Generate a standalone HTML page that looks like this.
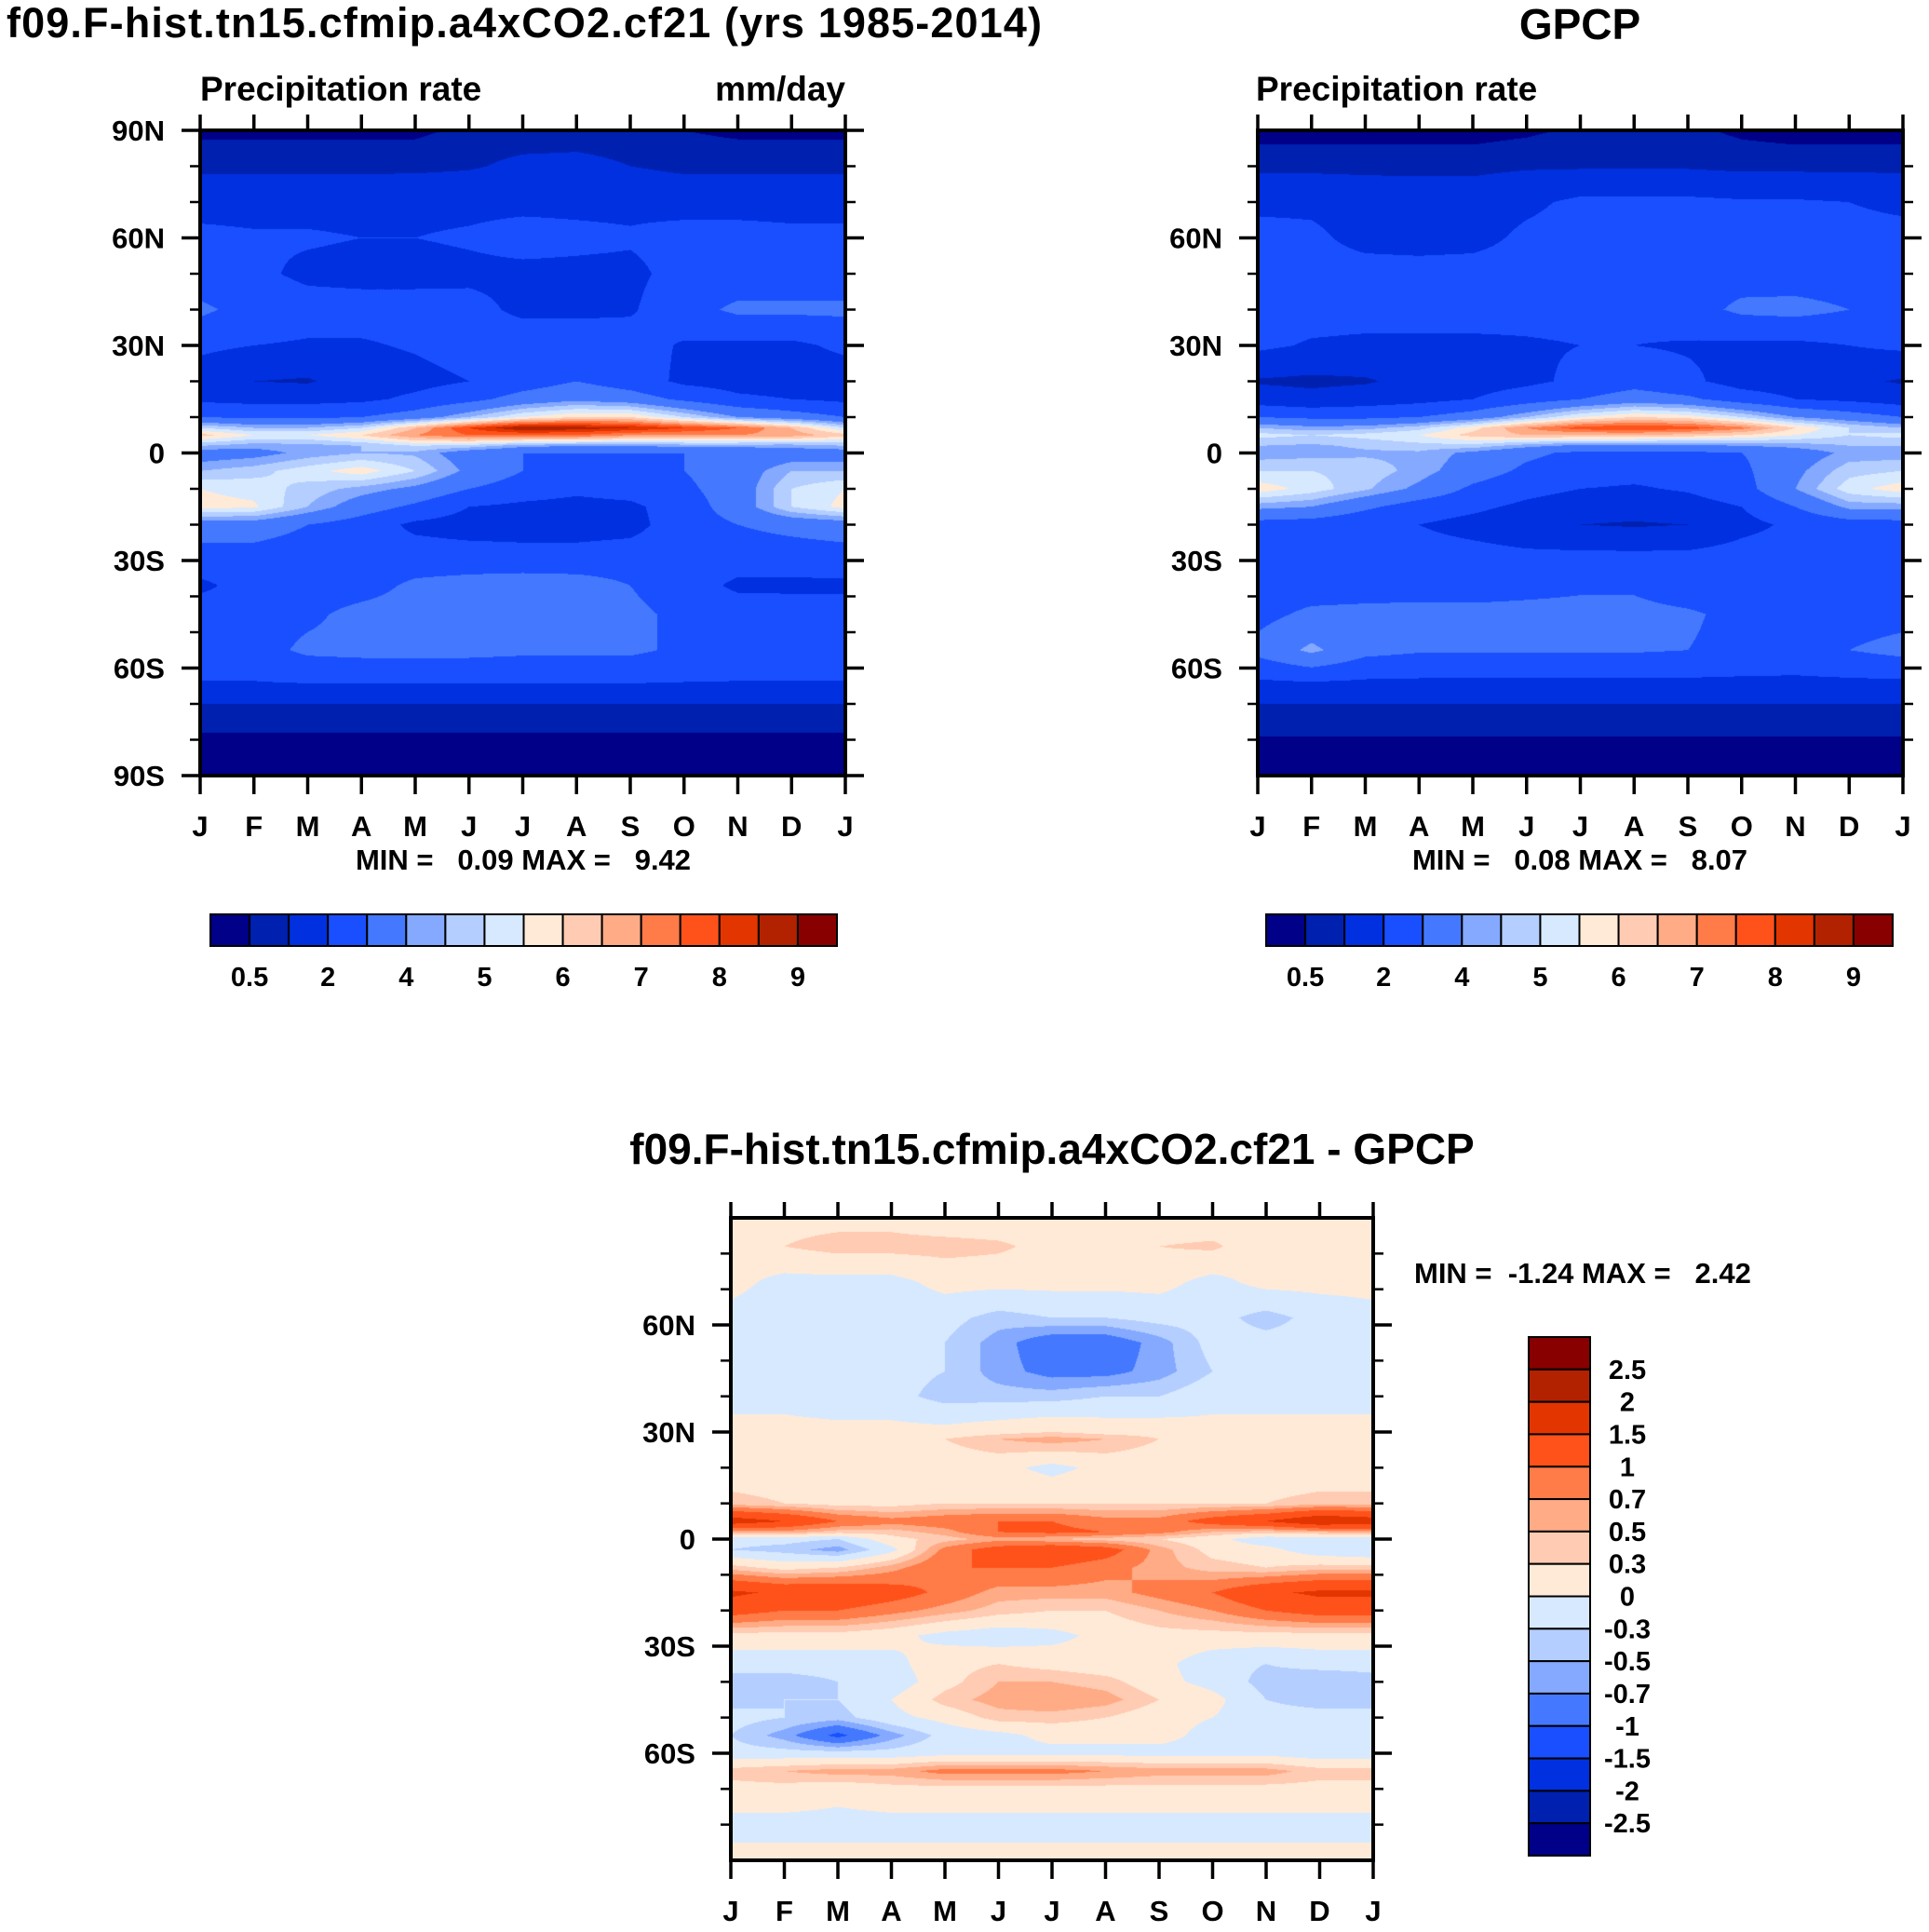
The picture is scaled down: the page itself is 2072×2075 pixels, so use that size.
<!DOCTYPE html>
<html><head><meta charset="utf-8">
<style>
html,body{margin:0;padding:0;background:#fff;}
#root{position:relative;width:2072px;height:2075px;overflow:hidden;font-family:"Liberation Sans",Arial,sans-serif;}
canvas{position:absolute;}
svg{position:absolute;left:0;top:0;}
text{font-family:"Liberation Sans",Arial,sans-serif;font-weight:bold;fill:#000;white-space:pre;}
</style></head>
<body>
<div id="root">
<canvas id="c1"></canvas>
<canvas id="c2"></canvas>
<canvas id="c3"></canvas>
<svg id="s" width="2072" height="2075"></svg>
</div>
<script>
// ---------- data ----------
const monthLabels=['J','F','M','A','M','J','J','A','S','O','N','D','J'];
const colorsMap=['#000088','#0020B0','#0030E0','#1A4FFF','#4479FF','#84A9FF','#B4CEFF','#D7E9FF','#FFEAD7','#FFCBB2','#FFAB86','#FF7B48','#FF521B','#E33500','#B22200','#880000'];
const levelsPrecip=[0.5,1,2,3,4,4.5,5,5.5,6,6.5,7,7.5,8,8.5,9];
const levelsDiff=[-2.5,-2,-1.5,-1,-0.7,-0.5,-0.3,0,0.3,0.5,0.7,1,1.5,2,2.5];
const precipBarLabels=['0.5','2','4','5','6','7','8','9'];
const precipBarLabelIdx=[1,3,5,7,9,11,13,15];
const diffBarLabels=['-2.5','-2','-1.5','-1','-0.7','-0.5','-0.3','0','0.3','0.5','0.7','1','1.5','2','2.5'];
const latsModel=[90,80,70,60,50,40,30,20,15,10,7,5,2,0,-5,-10,-15,-20,-30,-37,-45,-55,-65,-70,-75,-80,-90];
const modelPrecip=[
[0.4,0.4,0.4,0.4,0.4,0.6,0.6,0.7,0.7,0.5,0.4,0.4],
[0.8,0.8,0.8,0.8,0.8,0.9,1.2,1.2,1.0,0.8,0.8,0.8],
[1.7,1.7,1.7,1.7,1.8,1.8,1.8,1.8,1.8,1.7,1.7,1.7],
[2.2,2.1,2.1,2.0,2.0,2.1,2.3,2.2,2.1,2.3,2.3,2.2],
[2.4,2.2,1.8,1.7,1.7,1.8,1.8,1.8,1.8,2.3,2.4,2.4],
[3.2,2.6,2.4,2.4,2.4,2.3,1.8,1.8,1.9,2.6,3.2,3.2],
[2.2,2.0,1.9,1.9,2.1,2.4,2.6,2.6,2.4,1.9,1.8,1.8],
[1.5,1.0,0.9,1.5,1.7,2.0,2.5,3.0,2.5,1.8,1.6,1.5],
[1.8,1.7,1.7,1.8,2.2,2.7,3.4,3.8,3.5,2.8,2.2,2.0],
[3.0,2.8,2.8,3.0,3.5,4.5,5.5,6.0,6.0,5.0,4.0,3.5],
[5.0,4.5,4.5,5.0,6.5,8.0,9.0,8.8,8.5,8.0,7.5,6.5],
[6.2,5.5,5.5,6.0,7.0,7.5,7.5,7.5,7.0,7.0,7.0,6.8],
[4.5,4.2,4.3,4.5,5.0,4.8,4.2,4.0,4.0,4.2,4.2,4.2],
[3.5,3.7,4.2,4.5,4.4,3.5,3.0,3.0,3.0,3.0,3.2,3.5],
[4.5,4.8,5.3,5.8,5.0,3.8,3.0,2.5,2.5,3.0,3.5,4.5],
[5.5,5.3,4.8,4.3,3.8,3.0,2.5,2.2,2.4,2.8,3.5,5.0],
[5.7,5.6,4.5,3.5,2.8,2.0,1.8,1.7,1.8,2.5,3.5,5.0],
[3.5,3.5,3.0,2.5,1.8,1.6,1.6,1.6,1.7,2.5,3.0,3.3],
[2.5,2.5,2.4,2.4,2.5,2.5,2.4,2.4,2.5,2.5,2.4,2.4],
[1.8,2.4,2.5,2.6,3.2,3.4,3.6,3.5,3.0,2.5,1.8,1.8],
[2.5,2.6,2.8,3.3,3.4,3.5,3.5,3.4,3.2,2.8,2.6,2.5],
[2.6,2.6,3.2,3.3,3.3,3.3,3.2,3.2,3.2,2.8,2.6,2.6],
[1.9,1.9,1.9,1.9,1.9,1.9,1.9,1.9,1.9,1.9,1.9,1.9],
[1.0,1.0,1.0,1.0,1.0,1.0,1.0,1.0,1.0,1.0,1.0,1.0],
[0.8,0.8,0.8,0.8,0.8,0.8,0.8,0.8,0.8,0.8,0.8,0.8],
[0.3,0.3,0.3,0.3,0.3,0.3,0.3,0.3,0.3,0.3,0.3,0.3],
[0.2,0.2,0.2,0.2,0.2,0.2,0.2,0.2,0.2,0.2,0.2,0.2]];
const latsObs=[90,80,70,60,50,40,30,20,15,10,7,5,2,0,-5,-10,-15,-20,-30,-37,-45,-55,-65,-70,-75,-80,-90];
const obsPrecip=[
[0.3,0.3,0.3,0.3,0.3,0.4,0.6,0.7,0.6,0.4,0.3,0.3],
[0.8,0.8,0.8,0.8,0.8,0.9,0.9,0.9,0.9,0.8,0.8,0.8],
[1.8,1.8,1.6,1.5,1.5,1.8,2.2,2.2,2.2,2.1,2.1,2.0],
[2.3,2.2,1.7,1.6,1.7,2.2,2.4,2.4,2.4,2.4,2.3,2.3],
[2.5,2.4,2.4,2.4,2.4,2.4,2.5,2.5,2.6,2.6,2.5,2.5],
[2.5,2.4,2.4,2.4,2.4,2.3,2.3,2.3,2.6,3.2,3.3,3.0],
[2.2,1.9,1.8,1.8,1.8,1.9,2.0,2.0,1.9,1.8,1.8,2.0],
[0.9,0.8,0.9,1.3,1.6,1.8,2.2,2.6,2.2,1.6,1.5,1.2],
[1.5,1.3,1.5,1.7,2.0,2.5,3.0,3.5,3.2,2.5,2.0,1.8],
[3.0,2.8,2.8,3.0,3.5,4.5,5.5,6.0,5.8,5.0,4.0,3.5],
[4.5,4.2,4.3,4.8,5.8,7.0,7.8,8.0,7.8,7.2,6.0,5.0],
[5.2,5.0,5.2,5.5,6.2,6.5,6.5,6.5,6.3,6.0,5.5,5.0],
[4.5,4.4,4.6,4.8,4.8,4.2,3.8,3.8,3.8,4.0,4.2,4.5],
[4.2,4.3,4.4,4.4,3.8,3.2,2.8,2.8,2.8,3.0,3.5,4.2],
[5.0,5.0,4.8,4.3,3.5,2.8,2.4,2.3,2.4,2.8,3.8,4.8],
[5.8,5.3,4.6,3.8,2.8,2.3,2.0,1.9,2.1,2.6,4.0,5.3],
[4.2,4.0,3.2,2.5,2.2,1.8,1.5,1.4,1.6,2.0,3.0,4.2],
[2.6,2.5,2.2,2.0,1.7,1.4,1.0,0.9,1.0,1.7,2.2,2.5],
[2.5,2.4,2.4,2.4,2.4,2.3,2.4,2.4,2.4,2.5,2.5,2.5],
[2.5,2.5,2.5,2.6,2.7,2.8,2.9,2.9,2.6,2.5,2.5,2.5],
[2.7,3.2,3.3,3.3,3.2,3.2,3.2,3.2,3.1,2.8,2.5,2.6],
[3.3,4.2,3.3,3.1,3.1,3.1,3.1,3.1,3.0,2.8,2.7,3.0],
[1.7,1.7,1.7,1.7,1.7,1.7,1.7,1.7,1.7,1.7,1.7,1.7],
[1.0,1.0,1.0,1.0,1.0,1.0,1.0,1.0,1.0,1.0,1.0,1.0],
[0.9,0.9,0.9,0.9,0.9,0.9,0.9,0.9,0.9,0.9,0.9,0.9],
[0.4,0.4,0.4,0.4,0.4,0.4,0.4,0.4,0.4,0.4,0.4,0.4],
[0.3,0.3,0.3,0.3,0.3,0.3,0.3,0.3,0.3,0.3,0.3,0.3]];
const latsDiff=[90,82,72,62,55,47,40,30,28,20,10,5,2,0,-3,-8,-15,-20,-27,-35,-40,-45,-50,-55,-60,-65,-70,-80,-90];
const diffPrecip=[
[0.1,0.2,0.2,0.2,0.1,0.1,0.1,0.1,0.1,0.1,0.1,0.1],
[0.1,0.3,0.4,0.4,0.4,0.35,0.2,0.2,0.3,0.35,0.1,0.1],
[0.1,-0.1,-0.1,-0.1,0.1,0.1,0.1,0.1,0.1,-0.1,0.1,0.1],
[-0.1,-0.2,-0.2,-0.2,-0.2,-0.4,-0.3,-0.3,-0.2,-0.2,-0.4,-0.2],
[-0.2,-0.2,-0.2,-0.2,-0.3,-0.6,-0.9,-0.9,-0.6,-0.2,-0.2,-0.2],
[-0.2,-0.2,-0.2,-0.2,-0.3,-0.6,-0.8,-0.8,-0.6,-0.3,-0.2,-0.2],
[-0.1,-0.1,-0.2,-0.2,-0.4,-0.4,-0.4,-0.3,-0.3,-0.1,-0.1,-0.1],
[0.1,0.1,0.1,0.1,0.1,0.2,0.3,0.2,0.2,0.1,0.1,0.1],
[0.1,0.1,0.1,0.1,0.3,0.5,0.6,0.5,0.3,0.2,0.1,0.1],
[0.1,0.1,0.1,0.1,0.1,0.1,-0.1,0.1,0.1,0.1,0.1,0.1],
[0.4,0.3,0.2,0.2,0.3,0.3,0.3,0.3,0.3,0.3,0.3,0.4],
[1.8,1.5,1.0,0.8,0.9,1.0,1.0,0.8,0.8,1.2,1.5,2.0],
[0.6,0.6,0.4,0.4,0.6,1.0,1.1,1.0,0.8,0.5,0.4,0.5],
[-0.2,-0.2,-0.3,0.2,0.4,0.6,0.5,0.4,0.3,0.1,-0.2,-0.2],
[-0.3,-0.4,-0.6,-0.1,0.8,1.2,1.4,1.2,0.6,0.2,0.1,-0.2],
[0.4,0.2,0.3,0.6,1.0,1.0,1.0,0.8,0.6,0.4,0.3,0.4],
[1.6,1.4,1.4,1.2,0.9,0.6,0.6,0.6,0.8,1.0,1.4,1.6],
[1.2,1.0,1.0,0.8,0.6,0.4,0.3,0.3,0.5,0.7,1.0,1.2],
[0.2,0.2,0.2,0.1,-0.1,-0.2,-0.1,0.1,0.2,0.2,0.2,0.2],
[-0.2,-0.2,-0.2,-0.1,0.2,0.3,0.2,0.1,0.1,-0.2,-0.3,-0.2],
[-0.4,-0.4,-0.3,-0.2,0.2,0.5,0.5,0.4,0.1,-0.1,-0.4,-0.5],
[-0.4,-0.3,-0.3,0.0,0.4,0.6,0.7,0.6,0.3,0.1,-0.3,-0.4],
[-0.2,-0.3,-0.4,-0.1,0.1,0.4,0.4,0.3,0.1,0.0,-0.2,-0.2],
[-0.3,-0.6,-1.1,-0.6,-0.2,-0.1,0.1,0.1,0.1,-0.1,-0.2,-0.3],
[-0.2,-0.2,-0.2,-0.2,-0.1,-0.1,-0.1,-0.1,-0.1,-0.1,-0.1,-0.2],
[0.4,0.5,0.6,0.6,0.8,0.8,0.8,0.7,0.6,0.6,0.6,0.4],
[0.2,0.2,0.1,0.2,0.2,0.2,0.2,0.2,0.2,0.2,0.2,0.2],
[-0.1,-0.1,-0.1,-0.1,-0.1,-0.1,-0.1,-0.1,-0.1,-0.1,-0.1,-0.1],
[0.1,0.1,0.1,0.1,0.1,0.1,0.1,0.1,0.1,0.1,0.1,0.1]];

// ---------- helpers ----------
const NS='http://www.w3.org/2000/svg';
const svg=document.getElementById('s');
function el(tag,attrs,parent){const e=document.createElementNS(NS,tag);for(const k in attrs)e.setAttribute(k,attrs[k]);(parent||svg).appendChild(e);return e;}
function txt(x,y,s,size,anchor,name){const t=el('text',{x:x,y:y,'font-size':size,'text-anchor':anchor||'start'});t.textContent=s;


return t;}
function hexRgb(h){return [parseInt(h.substr(1,2),16),parseInt(h.substr(3,2),16),parseInt(h.substr(5,2),16)];}
const rgbMap=colorsMap.map(hexRgb);
function levelIndex(v,levels){let i=0;while(i<levels.length&&v>=levels[i])i++;return i;}

function drawField(id,box,lats,vals,levels){
  const c=document.getElementById(id);
  c.width=box.w;c.height=box.h;c.style.left=box.x+'px';c.style.top=box.y+'px';
  const ctx=c.getContext('2d');const img=ctx.createImageData(box.w,box.h);
  for(let py=0;py<box.h;py++){
    const lat=90-180*(py+0.5)/box.h;
    let r=0;while(r<lats.length-2&&lat<lats[r+1])r++;
    const ft=(lats[r]-lat)/(lats[r]-lats[r+1]);
    for(let px=0;px<box.w;px++){
      const m=12*(px+0.5)/box.w;const i=Math.floor(m)%12;const j=(i+1)%12;const fm=m-Math.floor(m);
      const a=vals[r][i]*(1-fm)+vals[r][j]*fm;
      const b=vals[r+1][i]*(1-fm)+vals[r+1][j]*fm;
      const v=a*(1-ft)+b*ft;
      const col=rgbMap[levelIndex(v,levels)];
      const o=(py*box.w+px)*4;img.data[o]=col[0];img.data[o+1]=col[1];img.data[o+2]=col[2];img.data[o+3]=255;
    }
  }
  ctx.putImageData(img,0,0);
}

function axes(box,prefix,latTicks,latLabels,topTicks){
  const g=el('g',{});
  
  
  const yOf=lat=>box.y+box.h*(90-lat)/180;
  const xOf=k=>box.x+box.w*k/12;
  for(let lat=-80;lat<=80;lat+=10){
    const y=yOf(lat);
    el('line',{x1:box.x-11,x2:box.x,y1:y,y2:y,stroke:'#000','stroke-width':2.5},g);
    el('line',{x1:box.x+box.w,x2:box.x+box.w+11,y1:y,y2:y,stroke:'#000','stroke-width':2.5},g);
  }
  latTicks.forEach((lat,i)=>{
    const y=yOf(lat);
    el('line',{x1:box.x-20,x2:box.x,y1:y,y2:y,stroke:'#000','stroke-width':3.5},g);
    el('line',{x1:box.x+box.w,x2:box.x+box.w+20,y1:y,y2:y,stroke:'#000','stroke-width':3.5},g);
    txt(box.x-38,y+11,latLabels[i],31,'end',prefix+'-lat-label');
  });
  monthLabels.forEach((m,k)=>{
    const x=xOf(k);
    el('line',{x1:x,x2:x,y1:box.y+box.h,y2:box.y+box.h+20,stroke:'#000','stroke-width':3.5},g);
    if(topTicks) el('line',{x1:x,x2:x,y1:box.y-17,y2:box.y,stroke:'#000','stroke-width':3.5},g);
    txt(x,box.y+box.h+65,m,31,'middle',prefix+'-month-label');
  });
  const r=el('rect',{x:box.x,y:box.y,width:box.w,height:box.h,fill:'none',stroke:'#000','stroke-width':4},g);
  
  
}

function hBar(x,y,w,h,prefix){
  const bw=w/16;
  for(let i=0;i<16;i++){
    const r=el('rect',{x:x+i*bw,y:y,width:bw,height:h,fill:colorsMap[i],stroke:'#000','stroke-width':2});
    
    
  }
  precipBarLabels.forEach((s,k)=>{txt(x+precipBarLabelIdx[k]*bw,y+77,s,29,'middle',prefix+'-colorbar-label');});
}
function vBar(x,y,w,h){
  const bh=h/16;
  for(let i=0;i<16;i++){
    const r=el('rect',{x:x,y:y+i*bh,width:w,height:bh,fill:colorsMap[15-i],stroke:'#000','stroke-width':2});
    
    
  }
  diffBarLabels.forEach((s,k)=>{txt(x+w+40,y+(15-k)*bh+10,s,29,'middle','diff-colorbar-label');});
}

// ---------- panels ----------
const box1={x:215,y:140,w:693,h:693};
const box2={x:1351,y:140,w:693,h:693};
const box3={x:785,y:1308,w:690,h:690};
drawField('c1',box1,latsModel,modelPrecip,levelsPrecip);
drawField('c2',box2,latsObs,obsPrecip,levelsPrecip);
drawField('c3',box3,latsDiff,diffPrecip,levelsDiff);

axes(box1,'model',[90,60,30,0,-30,-60,-90],['90N','60N','30N','0','30S','60S','90S'],true);
axes(box2,'gpcp',[60,30,0,-30,-60],['60N','30N','0','30S','60S'],true);
axes(box3,'diff',[60,30,0,-30,-60],['60N','30N','0','30S','60S'],true);

txt(7,40,'f09.F-hist.tn15.cfmip.a4xCO2.cf21 (yrs 1985-2014)',45,'start','model-title').setAttribute('textLength','1112');
txt(215,108,'Precipitation rate',37,'start','model-subtitle');
txt(908,108,'mm/day',37,'end','model-units');
txt(562,934,'MIN =   0.09 MAX =   9.42',31,'middle','model-min-max');
txt(1697,42,'GPCP',46,'middle','gpcp-title');
txt(1349,108,'Precipitation rate',37,'start','gpcp-subtitle');
txt(1697,934,'MIN =   0.08 MAX =   8.07',31,'middle','gpcp-min-max');
txt(1130,1250,'f09.F-hist.tn15.cfmip.a4xCO2.cf21 - GPCP',46,'middle','diff-title');
txt(1519,1378,'MIN =  -1.24 MAX =   2.42',31,'start','diff-min-max');

hBar(226,982,673,34,'model');
hBar(1360,982,673,34,'gpcp');
vBar(1642,1436,66,557);
</script>
</body></html>
